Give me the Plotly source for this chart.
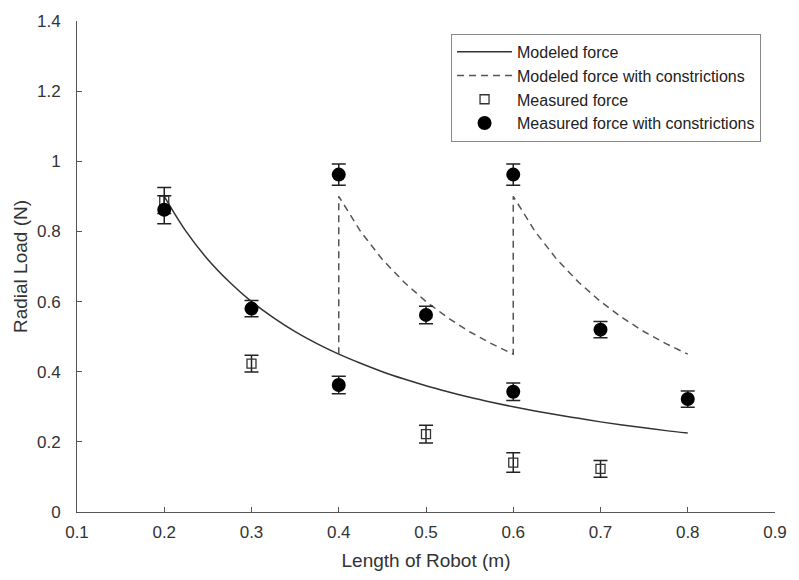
import plotly.graph_objects as go

# Modeled force
model_x = [0.2, 0.225, 0.25, 0.275, 0.3, 0.325, 0.35, 0.375, 0.4, 0.425, 0.45, 0.475, 0.5,
           0.525, 0.55, 0.575, 0.6, 0.625, 0.65, 0.675, 0.7, 0.725, 0.75, 0.775, 0.8]
model_y = [0.90, 0.80, 0.72, 0.655, 0.60, 0.554, 0.514, 0.48, 0.45, 0.424, 0.40, 0.379, 0.36,
           0.343, 0.327, 0.313, 0.30, 0.288, 0.277, 0.267, 0.257, 0.248, 0.24, 0.232, 0.225]

# Modeled force with constrictions (dashed)
constr_x = [0.4, 0.4, 0.425, 0.45, 0.475, 0.5, 0.525, 0.55, 0.575, 0.6,
            0.6, 0.625, 0.65, 0.675, 0.7, 0.725, 0.75, 0.775, 0.8]
constr_y = [0.45, 0.90, 0.80, 0.72, 0.655, 0.60, 0.554, 0.514, 0.48, 0.45,
            0.90, 0.80, 0.72, 0.655, 0.60, 0.554, 0.514, 0.48, 0.45]

# Measured force (open squares)
meas_x = [0.2, 0.3, 0.5, 0.6, 0.7]
meas_y = [0.888, 0.423, 0.222, 0.141, 0.123]
meas_err = [0.037, 0.024, 0.025, 0.028, 0.024]

# Measured force with constrictions (filled circles)
mc_x = [0.2, 0.3, 0.4, 0.4, 0.5, 0.6, 0.6, 0.7, 0.8]
mc_y = [0.862, 0.58, 0.962, 0.362, 0.562, 0.962, 0.343, 0.52, 0.322]
mc_err = [0.04, 0.023, 0.03, 0.025, 0.025, 0.03, 0.025, 0.023, 0.023]

x_ticks = [0.1, 0.2, 0.3, 0.4, 0.5, 0.6, 0.7, 0.8, 0.9]
y_ticks = [0, 0.2, 0.4, 0.6, 0.8, 1.0, 1.2, 1.4]
y_tick_text = ["0", "0.2", "0.4", "0.6", "0.8", "1", "1.2", "1.4"]

FONT = "Liberation Sans, Arial, sans-serif"

fig = go.Figure()
fig.add_trace(go.Scatter(x=model_x, y=model_y, mode="lines", name="Modeled force",
                         line=dict(color="#333333", width=1.5, shape="spline"), legendgroup="a"))
fig.add_trace(go.Scatter(x=constr_x, y=constr_y, mode="lines", name="Modeled force with constrictions",
                         line=dict(color="#555555", width=1.5, dash="7px,5px"), legendgroup="b"))
fig.add_trace(go.Scatter(x=meas_x, y=meas_y, mode="markers", name="Measured force",
                         marker=dict(symbol="square-open", size=9, color="#333333", line=dict(width=1.3)),
                         error_y=dict(type="data", array=meas_err, visible=True, color="#222222",
                                      thickness=1.5, width=7), legendgroup="c"))
fig.add_trace(go.Scatter(x=mc_x, y=mc_y, mode="markers", name="Measured force with constrictions",
                         marker=dict(symbol="circle", size=14, color="#000000"),
                         error_y=dict(type="data", array=mc_err, visible=True, color="#222222",
                                      thickness=1.5, width=7), legendgroup="d"))

fig.update_layout(
    width=799, height=580,
    margin=dict(l=77, r=18, t=17, b=68),
    paper_bgcolor="white", plot_bgcolor="white",
    font=dict(family=FONT, size=17, color="#333333"),
    showlegend=True,
    legend=dict(x=0.98, y=0.974, xanchor="right", yanchor="top",
                bordercolor="#888888", borderwidth=1, bgcolor="white",
                font=dict(size=16, color="#222222"), tracegroupgap=0, itemwidth=55),
    xaxis=dict(range=[0.1, 0.9], tickvals=x_ticks, ticks="inside", ticklen=5,
               showgrid=False, zeroline=False, showline=True, linecolor="#555555", linewidth=1,
               tickcolor="#555555", ticklabelstandoff=5, tickfont=dict(size=17),
               title=dict(text="Length of Robot (m)", font=dict(size=19), standoff=12)),
    yaxis=dict(range=[0, 1.4], tickvals=y_ticks, ticktext=y_tick_text, ticks="inside", ticklen=5,
               showgrid=False, zeroline=False, showline=True, linecolor="#555555", linewidth=1,
               tickcolor="#555555", ticklabelstandoff=12, tickfont=dict(size=17),
               title=dict(text="Radial Load (N)", font=dict(size=19), standoff=4)),
)

fig.write_html("out.html")
